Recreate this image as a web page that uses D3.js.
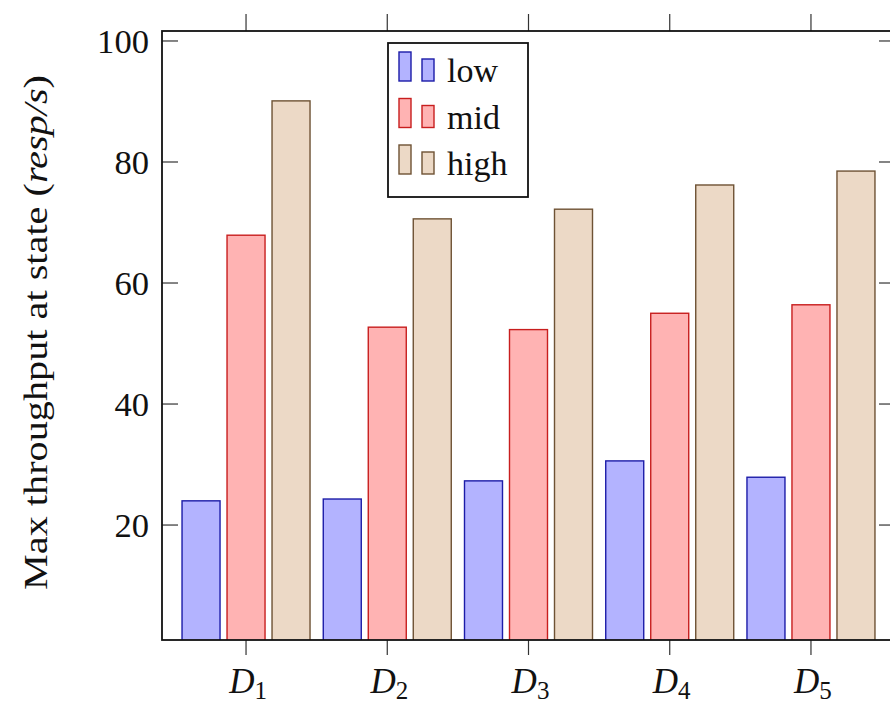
<!DOCTYPE html>
<html>
<head>
<meta charset="utf-8">
<script src="https://cdn.jsdelivr.net/npm/d3@7"></script>
<style>
  body { margin: 0; background: #fff; }
  svg text { font-family: "Liberation Serif", "Times New Roman", serif; fill: #111; }
</style>
</head>
<body>
<div id="chart"></div>
<script>
// data
var categories = ["1", "2", "3", "4", "5"];   // D_i subscripts
var seriesNames = ["low", "mid", "high"];
var lowValues  = [24.0, 24.3, 27.3, 30.6, 27.9];
var midValues  = [67.9, 52.7, 52.3, 55.0, 56.4];
var highValues = [90.1, 70.6, 72.2, 76.2, 78.5];
var yTicks = [20, 40, 60, 80, 100];

var seriesValues = [lowValues, midValues, highValues];
var fills   = ["#b3b3ff", "#ffb3b3", "#ecd9c6"];
var strokes = ["#1c1ca8", "#c81e1e", "#6e5234"];

var width = 890, height = 704;

// axis box (right side runs off the picture, like the reference)
var box = {left: 162, right: 895, top: 31, bottom: 640};

var svg = d3.select("#chart").append("svg")
	.attr("width", width)
	.attr("height", height);

// x: category index, enlarged a bit on both sides
var x = d3.scaleLinear()
	.domain([0.405, categories.length + 0.595])
	.range([box.left, box.right]);

var y = d3.scaleLinear()
	.domain([1.0, 101.65])
	.range([box.bottom, box.top]);

var barW = 38, barStep = 45;

// clip bars to the axis box
svg.append("defs").append("clipPath")
	.attr("id", "clip")
.append("rect")
	.attr("x", box.left)
	.attr("y", box.top)
	.attr("width", box.right - box.left)
	.attr("height", box.bottom - box.top);

var bars = svg.append("g").attr("clip-path", "url(#clip)");

seriesValues.forEach(function(vals, s){
	bars.selectAll(".bar-" + s)
		.data(vals)
		.enter().append("rect")
			.attr("class", "bar-" + s)
			.attr("x", function(d, i){ return x(i + 1) + (s - 1) * barStep - barW / 2; })
			.attr("y", function(d){ return y(d); })
			.attr("width", barW)
			.attr("height", function(d){ return y(0) - y(d); })
			.attr("fill", fills[s])
			.attr("stroke", strokes[s])
			.attr("stroke-width", 1.4);
});

// ticks: y inward on both sides, x outward on top and bottom
var tickG = svg.append("g").attr("stroke", "#333").attr("stroke-width", 1.2);

yTicks.forEach(function(t){
	tickG.append("line")
		.attr("x1", box.left).attr("x2", box.left + 16)
		.attr("y1", y(t)).attr("y2", y(t));
	tickG.append("line")
		.attr("x1", box.right).attr("x2", box.right - 16)
		.attr("y1", y(t)).attr("y2", y(t));
});

categories.forEach(function(c, i){
	tickG.append("line")
		.attr("x1", x(i + 1)).attr("x2", x(i + 1))
		.attr("y1", box.bottom).attr("y2", box.bottom + 15);
	tickG.append("line")
		.attr("x1", x(i + 1)).attr("x2", x(i + 1))
		.attr("y1", box.top).attr("y2", box.top - 17);
});

// axis frame
svg.append("rect")
	.attr("x", box.left)
	.attr("y", box.top)
	.attr("width", box.right - box.left)
	.attr("height", box.bottom - box.top)
	.attr("fill", "none")
	.attr("stroke", "#111")
	.attr("stroke-width", 1.8);

// y tick labels
svg.append("g").selectAll("text")
	.data(yTicks)
	.enter().append("text")
		.attr("x", 149)
		.attr("y", function(d){ return y(d); })
		.attr("dy", "0.34em")
		.attr("text-anchor", "end")
		.style("font-size", "34px")
		.attr("textLength", function(d){ return String(d).length * 17.3; })
		.attr("lengthAdjust", "spacingAndGlyphs")
		.text(function(d){ return d; });

// x tick labels  D_i
var xl = svg.append("g").selectAll("text")
	.data(categories)
	.enter().append("text")
		.attr("x", function(d, i){ return x(i + 1) + 2; })
		.attr("y", 693)
		.attr("text-anchor", "middle")
		.style("font-size", "35px");
xl.append("tspan")
	.style("font-style", "italic")
	.text("D");
xl.append("tspan")
	.attr("dy", 6)
	.style("font-size", "25px")
	.text(function(d){ return d; });

// y axis label
var yl = svg.append("text")
	.attr("transform", "translate(47," + ((box.top + box.bottom) / 2 - 3) + ") rotate(-90)")
	.attr("text-anchor", "middle")
	.attr("textLength", 515)
	.attr("lengthAdjust", "spacingAndGlyphs")
	.style("font-size", "34px");
yl.append("tspan").text("Max throughput at state (");
yl.append("tspan").style("font-style", "italic").text("resp/s");
yl.append("tspan").text(")");

// legend
var leg = svg.append("g");
leg.append("rect")
	.attr("x", 388).attr("y", 43)
	.attr("width", 140).attr("height", 154)
	.attr("fill", "#fff")
	.attr("stroke", "#111")
	.attr("stroke-width", 1.8);

seriesNames.forEach(function(name, s){
	var base = 82 + s * 46.5;
	leg.append("rect")
		.attr("x", 399).attr("y", base - 30)
		.attr("width", 12).attr("height", 29)
		.attr("fill", fills[s]).attr("stroke", strokes[s]).attr("stroke-width", 1.4);
	leg.append("rect")
		.attr("x", 422).attr("y", base - 23)
		.attr("width", 12).attr("height", 22)
		.attr("fill", fills[s]).attr("stroke", strokes[s]).attr("stroke-width", 1.4);
	leg.append("text")
		.attr("x", 447).attr("y", base)
		.style("font-size", "34px")
		.text(name);
});
</script>
</body>
</html>
